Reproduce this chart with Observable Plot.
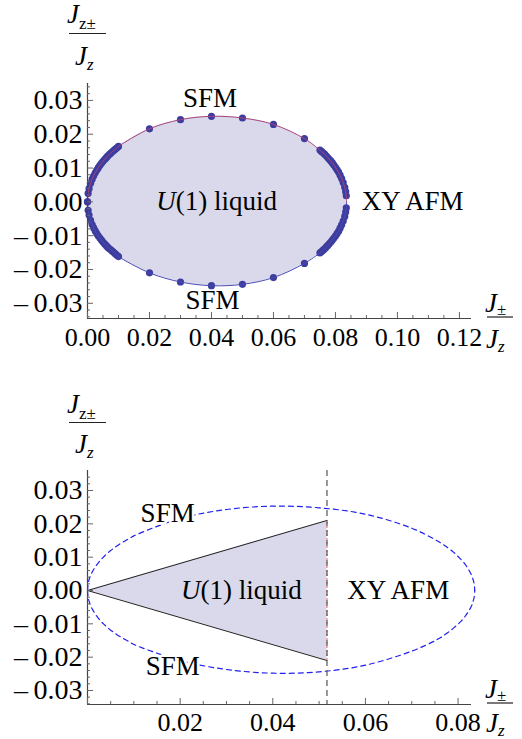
<!DOCTYPE html>
<html><head><meta charset="utf-8">
<script src="https://cdn.jsdelivr.net/npm/d3@7"></script>
<script src="https://cdn.jsdelivr.net/npm/@observablehq/plot@0.6"></script>
<style>body{margin:0;background:#fff} svg{display:block}</style>
</head><body><div id="c"></div>
<script>
// ---- data ----
const boundaryX = [0, 0.0002, 0.0005, 0.001, 0.0015, 0.002, 0.0025, 0.003, 0.0035, 0.004, 0.0045, 0.005, 0.0055, 0.006, 0.0065, 0.007, 0.0075, 0.008, 0.0085, 0.009, 0.0095, 0.01,
  0.02, 0.03, 0.04, 0.05, 0.06, 0.07,
  0.075, 0.0755, 0.076, 0.0765, 0.077, 0.0775, 0.078, 0.0785, 0.079, 0.0795, 0.08, 0.0805, 0.081, 0.0815, 0.082, 0.0825, 0.083, 0.0833, 0.0835, 0.0836];
const upperY = [0, 0.0025, 0.0039, 0.0055, 0.0067, 0.0077, 0.0086, 0.0094, 0.0101, 0.0108, 0.0114, 0.0120, 0.0125, 0.0130, 0.0135, 0.0140, 0.0144, 0.0148, 0.0152, 0.0156, 0.0160, 0.0164,
  0.0216, 0.0243, 0.0253, 0.0248, 0.0229, 0.0187,
  0.0153, 0.0149, 0.0145, 0.0141, 0.0136, 0.0131, 0.0126, 0.0121, 0.0115, 0.0109, 0.0102, 0.0095, 0.0088, 0.0079, 0.0069, 0.0057, 0.0043, 0.0030, 0.0018, 0];
const lowerY = [0, -0.0025, -0.0039, -0.0055, -0.0067, -0.0077, -0.0086, -0.0094, -0.0101, -0.0107, -0.0113, -0.0119, -0.0124, -0.0129, -0.0134, -0.0138, -0.0142, -0.0146, -0.0150, -0.0154, -0.0158, -0.0162,
  -0.0210, -0.0237, -0.0248, -0.0244, -0.0224, -0.0182,
  -0.0151, -0.0147, -0.0143, -0.0139, -0.0134, -0.0129, -0.0124, -0.0119, -0.0113, -0.0107, -0.0101, -0.0094, -0.0087, -0.0078, -0.0068, -0.0057, -0.0043, -0.0030, -0.0018, 0];

const yTicks = [-0.03, -0.02, -0.01, 0, 0.01, 0.02, 0.03];
const xTicksTop = [0, 0.02, 0.04, 0.06, 0.08, 0.10, 0.12];
const xTicksBottom = [0.02, 0.04, 0.06, 0.08];

const transitionX = 0.0517;
const wedgeX = [0, 0.0517];
const wedgeUpper = [0, 0.021];
const wedgeLower = [0, -0.021];

// ---- derived tables ----
const boundary = boundaryX.map((x, i) => ({x, up: upperY[i], lo: lowerY[i]}));
const boundaryPts = boundary.slice(0, -1);
const wedge = wedgeX.map((x, i) => ({x, up: wedgeUpper[i], lo: wedgeLower[i]}));

const serif = "'Liberation Serif', 'Times New Roman', serif";
const fmt2 = d3.format(".2f");
const fmt = d => (d < 0 ? "\u2013\u2009" : "") + fmt2(Math.abs(d));
const lavender = "#d9d9eb";
const axisColor = "#444";
const tickColor = "#666";
const labelSize = 27;

function axisMarks({xDomain, yDomain, xLabels, labelPad}) {
  const xMinor = d3.range(0, xDomain[1] + 1e-9, 0.005).filter(v => Math.abs(v / 0.02 - Math.round(v / 0.02)) > 1e-6);
  const xMajor = d3.range(0, xDomain[1] + 1e-9, 0.02);
  const yMinor = d3.range(-0.034, yDomain[1], 0.002).map(v => +v.toFixed(3)).filter(v => Math.abs(v / 0.01 - Math.round(v / 0.01)) > 1e-6);
  return [
    Plot.ruleX([0], {stroke: axisColor, strokeWidth: 1.2}),
    Plot.ruleY([yDomain[0]], {stroke: axisColor, strokeWidth: 1.2}),
    Plot.axisY(yMinor, {tickSize: -3, tickFormat: () => "", stroke: tickColor, label: null}),
    Plot.axisY(yTicks, {tickSize: -6, tickFormat: () => "", stroke: tickColor, label: null}),
    Plot.text(yTicks, {x: xDomain[0], y: d => d, text: d => fmt(d), textAnchor: "end", dx: -5, fontSize: 28, fill: "black"}),
    Plot.axisX(xMinor, {tickSize: -3, tickFormat: () => "", stroke: tickColor, label: null}),
    Plot.axisX(xMajor, {tickSize: -6, tickFormat: () => "", stroke: tickColor, label: null}),
    Plot.text(xLabels, {x: d => d, y: yDomain[0], text: d => fmt(d), lineAnchor: "top", dy: labelPad, fontSize: 26, fill: "black"})
  ];
}

function addFraction(svg, {x, yNum, numSub, numSubDy, barX1, barX2, yBar, xDen, yDen, denSubDy}) {
  const g = d3.select(svg).append("g")
    .attr("font-family", serif).attr("fill", "black").attr("text-anchor", "start");
  const n = g.append("text").attr("x", x).attr("y", yNum).attr("font-size", 27);
  n.append("tspan").attr("font-style", "italic").text("J");
  n.append("tspan").attr("font-size", 17).attr("dy", numSubDy).attr("font-style", "normal").text(numSub);
  g.append("line").attr("x1", barX1).attr("x2", barX2).attr("y1", yBar).attr("y2", yBar).attr("stroke", "#222").attr("stroke-width", 1.2);
  const d = g.append("text").attr("x", xDen).attr("y", yDen).attr("font-size", 27);
  d.append("tspan").attr("font-style", "italic").text("J");
  d.append("tspan").attr("font-size", 17).attr("dy", denSubDy).attr("font-style", "italic").text("z");
}

// ---- top panel ----
const topX = [0, 0.1239], topY = [-0.0345, 0.035];
const topPlot = Plot.plot({
  width: 522, height: 370,
  marginLeft: 87, marginRight: 51, marginTop: 83, marginBottom: 52,
  x: {domain: topX, label: null},
  y: {domain: topY, label: null},
  style: {fontFamily: serif, fontSize: "26px", background: "white", color: "black", overflow: "visible"},
  marks: [
    Plot.areaY(boundary, {x: "x", y1: "lo", y2: "up", fill: lavender, curve: "catmull-rom"}),
    Plot.dot(boundaryPts, {x: "x", y: "up", r: 3.6, fill: "#3d3d9f"}),
    Plot.dot(boundaryPts, {x: "x", y: "lo", r: 3.6, fill: "#3d3d9f"}),
    Plot.line(boundary, {x: "x", y: "up", stroke: "#a8447c", strokeWidth: 1, curve: "catmull-rom"}),
    Plot.line(boundary, {x: "x", y: "lo", stroke: "#4a4ab4", strokeWidth: 1, curve: "catmull-rom"}),
    ...axisMarks({xDomain: topX, yDomain: topY, xLabels: xTicksTop, labelPad: 9}),
    Plot.text(["SFM"], {x: 0.0395, y: 0.0305, text: d => d, fontSize: labelSize}),
    Plot.text(["SFM"], {x: 0.0403, y: -0.029, text: d => d, fontSize: labelSize}),
    Plot.text(["U"], {x: 0.0285, y: 0, text: d => d, fontSize: labelSize, fontStyle: "italic", textAnchor: "end"}),
    Plot.text(["(1) liquid"], {x: 0.0285, y: 0, text: d => d, fontSize: labelSize, textAnchor: "start"}),
    Plot.text(["XY AFM"], {x: 0.0885, y: 0, text: d => d, fontSize: labelSize, textAnchor: "start"})
  ]
});
addFraction(topPlot, {x: 67, yNum: 23, numSub: "z±", numSubDy: 6, barX1: 69, barX2: 106, yBar: 33.5, xDen: 75, yDen: 65, denSubDy: 5});
addFraction(topPlot, {x: 485, yNum: 311.5, numSub: "±", numSubDy: 3, barX1: 487, barX2: 513, yBar: 317, xDen: 486, yDen: 348, denSubDy: 4});

// ---- bottom panel ----
const botX = [0, 0.0829], botY = [-0.0342, 0.036];
const bottomPlot = Plot.plot({
  width: 522, height: 369,
  marginLeft: 87, marginRight: 51, marginTop: 100, marginBottom: 35,
  x: {domain: botX, label: null},
  y: {domain: botY, label: null},
  style: {fontFamily: serif, fontSize: "26px", background: "white", color: "black", overflow: "visible"},
  marks: [
    Plot.areaY(wedge, {x: "x", y1: "lo", y2: "up", fill: lavender}),
    Plot.line(wedge, {x: "x", y: "up", stroke: "#222", strokeWidth: 1}),
    Plot.line(wedge, {x: "x", y: "lo", stroke: "#222", strokeWidth: 1}),
    Plot.ruleX([transitionX], {y1: wedgeLower[1], y2: wedgeUpper[1], stroke: "#ff5a5a", strokeWidth: 1, strokeDasharray: "2,2"}),
    Plot.line(boundary, {x: "x", y: "up", stroke: "#2020f0", strokeWidth: 1.2, strokeDasharray: "5,4", curve: "catmull-rom"}),
    Plot.line(boundary, {x: "x", y: "lo", stroke: "#2020f0", strokeWidth: 1.2, strokeDasharray: "5,4", curve: "catmull-rom"}),
    Plot.ruleX([transitionX], {stroke: "#555", strokeWidth: 1.2, strokeDasharray: "6,4"}),
    ...axisMarks({xDomain: botX, yDomain: botY, xLabels: xTicksBottom, labelPad: 8}),
    Plot.text(["SFM"], {x: 0.0173, y: 0.0231, text: d => d, fontSize: labelSize, stroke: "white", strokeWidth: 5, fill: "black"}),
    Plot.text(["SFM"], {x: 0.0184, y: -0.0228, text: d => d, fontSize: labelSize, stroke: "white", strokeWidth: 5, fill: "black"}),
    Plot.text(["U"], {x: 0.0244, y: 0, text: d => d, fontSize: labelSize, fontStyle: "italic", textAnchor: "end"}),
    Plot.text(["(1) liquid"], {x: 0.0244, y: 0, text: d => d, fontSize: labelSize, textAnchor: "start"}),
    Plot.text(["XY AFM"], {x: 0.0561, y: 0, text: d => d, fontSize: labelSize, textAnchor: "start"})
  ]
});
addFraction(bottomPlot, {x: 67, yNum: 43, numSub: "z±", numSubDy: 6, barX1: 69, barX2: 106, yBar: 52.5, xDen: 75, yDen: 83, denSubDy: 5});
addFraction(bottomPlot, {x: 485, yNum: 328, numSub: "±", numSubDy: 3, barX1: 487, barX2: 513, yBar: 333, xDen: 486, yDen: 362, denSubDy: 4});

document.getElementById("c").append(topPlot, bottomPlot);
</script>
</body></html>
